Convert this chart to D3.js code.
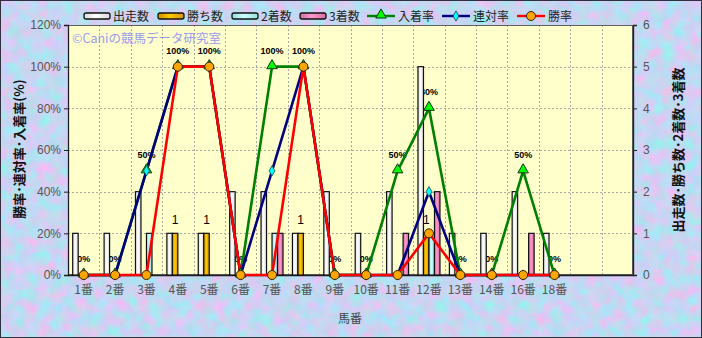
<!DOCTYPE html>
<html>
<head>
<meta charset="utf-8">
<script src="https://cdn.jsdelivr.net/npm/d3@7"></script>
<style>
body{margin:0;padding:0;background:#fff;}
text{font-family:"Noto Sans CJK JP","Liberation Sans",sans-serif;}
</style>
</head>
<body>
<div id="chart"></div>
<script>
// 馬番ごとの成績
var categories = ["1番","2番","3番","4番","5番","6番","7番","8番","9番","10番","11番","12番","13番","14番","16番","18番","",""];
var runs   = [1,1,2,1,1,2,2,1,2,1,2,5,1,1,2,1];//出走数
var wins   = [0,0,0,1,1,0,0,1,0,0,0,1,0,0,0,0];//勝ち数
var seconds= [0,0,1,0,0,0,1,0,0,0,0,1,0,0,0,0];//2着数
var thirds = [0,0,0,0,0,0,1,0,0,0,1,2,0,0,1,0];//3着数
var placeRate = [0,0,50,100,100,0,100,100,0,0,50,80,0,0,50,0];//入着率
var rentaiRate= [0,0,50,100,100,0,50,100,0,0,0,40,0,0,0,0];//連対率
var winRate   = [0,0,0,100,100,0,0,100,0,0,0,20,0,0,0,0];//勝率
var leftTicks = [0,20,40,60,80,100,120];
var rightTicks= [0,1,2,3,4,5,6];

var W = 702, H = 338;
var plot = {left:68, right:633, top:25, bottom:275};

var svg = d3.select("#chart").append("svg")
  .attr("width",W).attr("height",H);

var defs = svg.append("defs");
// mottled paper background, made with turbulence
var f = defs.append("filter").attr("id","paper").attr("x",0).attr("y",0).attr("width","100%").attr("height","100%")
  .attr("color-interpolation-filters","sRGB");
f.append("feTurbulence").attr("type","fractalNoise").attr("baseFrequency","0.08").attr("numOctaves",3).attr("seed",7);
f.append("feColorMatrix").attr("type","matrix")
  .attr("values","0.5 -0.15 0 0 0.60  -0.25 0.15 0 0 0.89  0 0 0.1 0 0.9  0 0 0 0 1");

function barGrad(id, c1, c2) {//horizontal gradient for the cylinder look of the bars
  var g = defs.append("linearGradient").attr("id",id).attr("x1",0).attr("x2",1).attr("y1",0).attr("y2",0);
  g.append("stop").attr("offset","0%").attr("stop-color",c2);
  g.append("stop").attr("offset","45%").attr("stop-color",c1);
  g.append("stop").attr("offset","100%").attr("stop-color",c2);
}
barGrad("gRun","#ffffff","#d8d8d8");
barGrad("gWin","#ffcc00","#d09000");
barGrad("gSec","#ccffff","#99dddd");
barGrad("gThi","#ff99cc","#d070a0");

svg.append("rect").attr("width",W).attr("height",H).attr("filter","url(#paper)");
svg.append("rect").attr("x",0.5).attr("y",0.5).attr("width",W-1).attr("height",H-1)
  .attr("fill","none").attr("stroke","#303040");

var x = d3.scaleBand().domain(d3.range(categories.length)).range([plot.left,plot.right]);
var xs = d3.scaleBand().domain(["run","win","sec","thi"]).range([4.7,x.bandwidth()-4.7]);
var yL = d3.scaleLinear().domain([0,120]).range([plot.bottom,plot.top]);
var yR = d3.scaleLinear().domain([0,6]).range([plot.bottom,plot.top]);

// plot area
svg.append("rect").attr("x",plot.left).attr("y",plot.top)
  .attr("width",plot.right-plot.left).attr("height",plot.bottom-plot.top).attr("fill","#ffffcc");

var grid = svg.append("g").attr("stroke","#a8a8a0").attr("stroke-dasharray","2,2").attr("stroke-width",1);
grid.selectAll("line.h").data(leftTicks.slice(1,-1)).enter().append("line")
  .attr("x1",plot.left).attr("x2",plot.right)
  .attr("y1",function(d){return Math.round(yL(d))+0.5;}).attr("y2",function(d){return Math.round(yL(d))+0.5;});
grid.selectAll("line.v").data(d3.range(1,categories.length)).enter().append("line")
  .attr("y1",plot.top).attr("y2",plot.bottom)
  .attr("x1",function(d){return Math.round(x(d))+0.5;}).attr("x2",function(d){return Math.round(x(d))+0.5;});
svg.append("rect").attr("x",plot.left+0.5).attr("y",plot.top+0.5)
  .attr("width",plot.right-plot.left-1).attr("height",plot.bottom-plot.top-1)
  .attr("fill","none").attr("stroke","#606060");

// axes
var axL = svg.append("g").attr("transform","translate("+plot.left+",0)")
  .call(d3.axisLeft(yL).tickValues(leftTicks).tickSize(4).tickFormat(function(d){return d+"%";}));
var axR = svg.append("g").attr("transform","translate("+plot.right+",0)")
  .call(d3.axisRight(yR).tickValues(rightTicks).tickSize(4).tickPadding(6).tickFormat(d3.format("d")));
var axB = svg.append("g").attr("transform","translate(0,"+plot.bottom+")")
  .call(d3.axisBottom(x).tickSize(0).tickPadding(10).tickFormat(function(i){return categories[i];}));
[axL,axR,axB].forEach(function(a){
  a.selectAll("path").attr("stroke","#202020").attr("stroke-width",1.3);
  a.selectAll("line").attr("stroke","#202020");
  a.selectAll("text").attr("fill","#555").style("font-size","12px")
    .style("font-family","'Liberation Sans','Noto Sans CJK JP',sans-serif");
});
axB.selectAll("text").style("font-family","'Noto Sans CJK JP',sans-serif").style("font-size","12px");

// axis titles
svg.append("text").attr("transform","translate(24,149) rotate(-90)").attr("text-anchor","middle")
  .style("font-size","13px").style("font-weight","bold").attr("fill","#111").text("勝率･連対率･入着率(%)");
svg.append("text").attr("transform","translate(683,150) rotate(-90)").attr("text-anchor","middle")
  .style("font-size","13px").style("font-weight","bold").attr("fill","#111").text("出走数･勝ち数･2着数･3着数");
svg.append("text").attr("x",350).attr("y",323).attr("text-anchor","middle")
  .style("font-size","12px").attr("fill","#444").text("馬番");

// watermark
svg.append("text").attr("x",72).attr("y",43).style("font-size","12.5px").attr("fill","#9a9aee")
  .text("©Caniの競馬データ研究室");

// labels first, bars are drawn over them
svg.append("g").selectAll("text").data(placeRate).enter().append("text")
  .attr("x",function(d,i){return x(i)+x.bandwidth()/2;})
  .attr("y",function(d){return yL(d)-13;})
  .attr("text-anchor","middle").style("font-size","9px").style("font-weight","bold")
  .style("font-family","'Liberation Sans',sans-serif").style("fill","#000")
  .text(function(d){return d+"%";});
var winLabels = [];
wins.forEach(function(d,i){ if(d>0) winLabels.push({i:i,v:d}); });
svg.append("g").selectAll("text").data(winLabels).enter().append("text")
  .attr("x",function(d){return x(d.i)+xs("win")+xs.bandwidth()/2;})
  .attr("y",function(d){return yR(d.v)-9;})
  .attr("text-anchor","middle").style("font-size","12px")
  .style("font-family","'Liberation Sans',sans-serif").style("fill","#000")
  .text(function(d){return d.v;});

// bars
var barSeries = [
  {key:"run", vals:runs, fill:"url(#gRun)"},
  {key:"win", vals:wins, fill:"url(#gWin)"},
  {key:"sec", vals:seconds, fill:"url(#gSec)"},
  {key:"thi", vals:thirds, fill:"url(#gThi)"}
];
barSeries.forEach(function(s){
  var items = [];
  s.vals.forEach(function(d,i){ if(d>0) items.push({i:i,v:d}); });
  svg.append("g").selectAll("rect").data(items).enter().append("rect")
    .attr("x",function(d){return x(d.i)+xs(s.key);})
    .attr("width",xs.bandwidth())
    .attr("y",function(d){return yR(d.v);})
    .attr("height",function(d){return yR(0)-yR(d.v);})
    .attr("fill",s.fill).attr("stroke","#111").attr("stroke-width",1.2);
});

// lines
var lineSeries = [
  {vals:placeRate, color:"#008000", marker:"tri"},
  {vals:rentaiRate, color:"#000080", marker:"dia"},
  {vals:winRate, color:"#ff0000", marker:"cir"}
];
var cx = function(i){return x(i)+x.bandwidth()/2;};
lineSeries.forEach(function(s){
  var line = d3.line().x(function(d,i){return cx(i);}).y(function(d){return yL(d);});
  svg.append("path").datum(s.vals).attr("d",line).attr("fill","none")
    .attr("stroke",s.color).attr("stroke-width",2.6).attr("stroke-linejoin","round");
});
lineSeries.forEach(function(s){
  var g = svg.append("g");
  s.vals.forEach(function(d,i){
    drawMarker(g, s.marker, cx(i), yL(d));
  });
});

function drawMarker(g, type, px, py) {
  if (type=="tri") {
    g.append("path").attr("d",d3.symbol().type(d3.symbolTriangle).size(48))
      .attr("transform","translate("+px+","+(py-1)+")")
      .attr("fill","#00ff00").attr("stroke","#113311").attr("stroke-width",1);
  } else if (type=="dia") {
    g.append("path").attr("d",d3.symbol().type(d3.symbolDiamond).size(30))
      .attr("transform","translate("+px+","+py+")")
      .attr("fill","#00ffff").attr("stroke","#114444").attr("stroke-width",0.8);
  } else {
    g.append("circle").attr("cx",px).attr("cy",py).attr("r",4.5)
      .attr("fill","#ffa500").attr("stroke","#332200").attr("stroke-width",1);
  }
}

// legend
var legend = svg.append("g");
var barLegend = [
  {name:"出走数", fill:"url(#gRun)", x:84},
  {name:"勝ち数", fill:"url(#gWin)", x:158},
  {name:"2着数", fill:"url(#gSec)", x:232},
  {name:"3着数", fill:"url(#gThi)", x:300}
];
barLegend.forEach(function(b){
  legend.append("rect").attr("x",b.x).attr("y",13).attr("width",26).attr("height",6).attr("rx",2)
    .attr("fill",b.fill).attr("stroke","#111").attr("stroke-width",1.3);
  legend.append("text").attr("x",b.x+29).attr("y",21).style("font-size","12px").attr("fill","#222").text(b.name);
});
var lineLegend = [
  {name:"入着率", color:"#008000", marker:"tri", x:367},
  {name:"連対率", color:"#000080", marker:"dia", x:442},
  {name:"勝率", color:"#ff0000", marker:"cir", x:517}
];
lineLegend.forEach(function(l){
  legend.append("line").attr("x1",l.x).attr("x2",l.x+28).attr("y1",16).attr("y2",16)
    .attr("stroke",l.color).attr("stroke-width",2.4);
  drawMarker(legend, l.marker, l.x+14, 16);
  legend.append("text").attr("x",l.x+31).attr("y",21).style("font-size","12px").attr("fill","#222").text(l.name);
});
</script>
</body>
</html>
